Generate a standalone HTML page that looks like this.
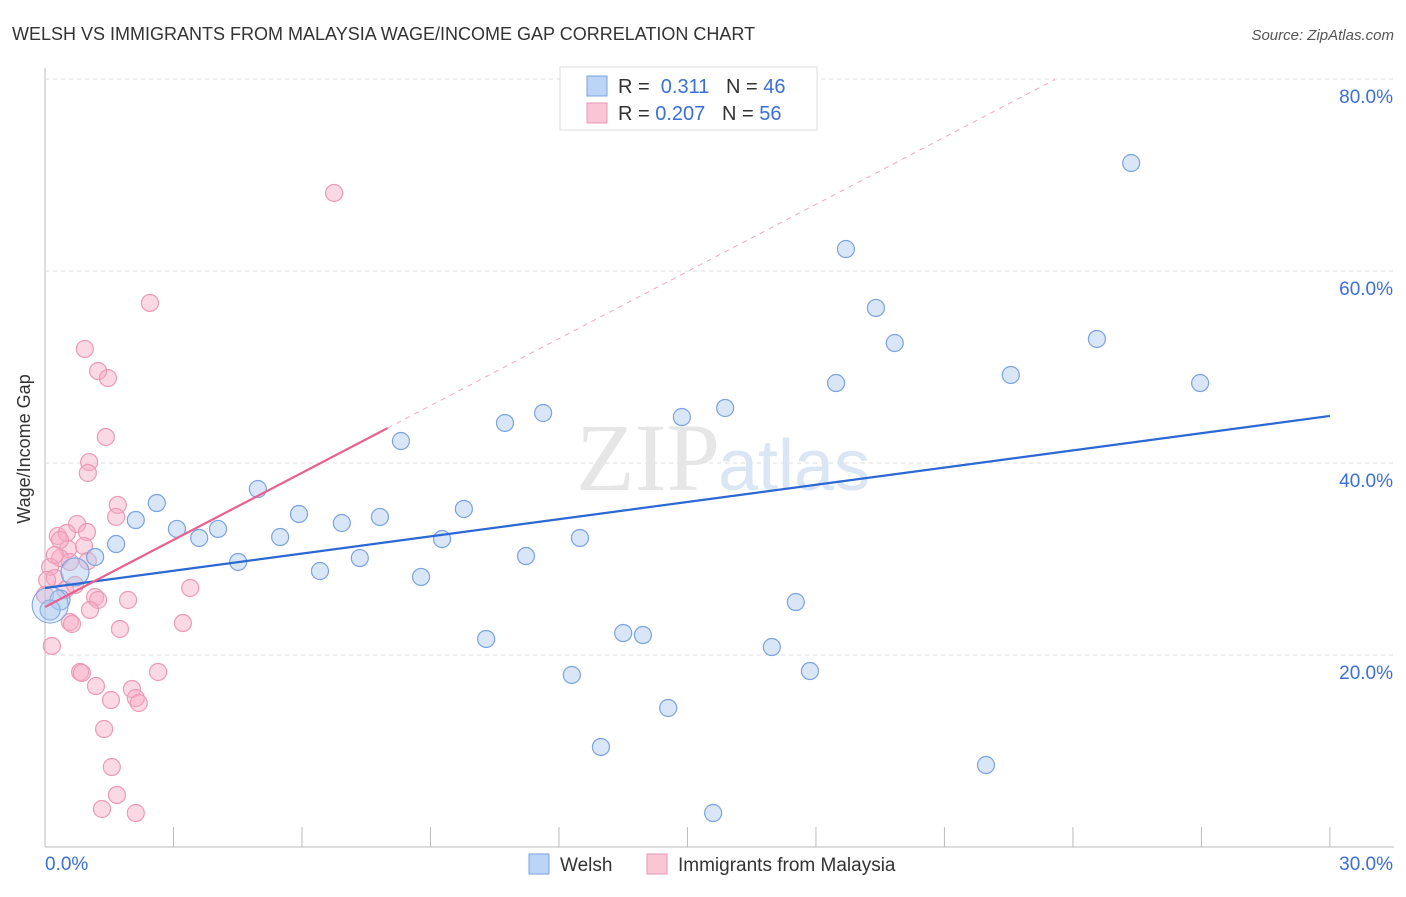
<!DOCTYPE html>
<html><head><meta charset="utf-8"><style>
body{margin:0;background:#fff;font-family:"Liberation Sans",sans-serif}
</style></head><body>
<svg width="1406" height="892" xmlns="http://www.w3.org/2000/svg" font-family="Liberation Sans, sans-serif">
<text x="12" y="40" font-size="18" fill="#333">WELSH VS IMMIGRANTS FROM MALAYSIA WAGE/INCOME GAP CORRELATION CHART</text>
<text x="1394" y="40" font-size="15" fill="#555" font-style="italic" text-anchor="end">Source: ZipAtlas.com</text>
<g id="grid"></g>
<text x="720" y="490" font-size="96" fill="#e6e6e6" font-family="Liberation Serif, serif" text-anchor="end">ZIP</text>
<text x="718" y="490" font-size="72" fill="#dbe6f5">atlas</text>
<text x="36" y="455" font-size="18" fill="#333" transform="rotate(-90 30 455)" text-anchor="middle">Wage/Income Gap</text>
<g id="marks"></g>
<g>
<rect x="560" y="67" width="257" height="63" fill="#fff" stroke="#ddd"/>
<rect x="587" y="76" width="20" height="20" fill="#bcd4f5" stroke="#7aa3e0"/>
<rect x="587" y="103" width="20" height="20" fill="#f9c6d5" stroke="#eb96b2"/>
<text x="618" y="93" font-size="20" fill="#333">R = <tspan fill="#3a6fd8">&#160;0.311</tspan>&#160;&#160;&#160;N = <tspan fill="#3a6fd8">46</tspan></text>
<text x="618" y="120" font-size="20" fill="#333">R = <tspan fill="#3a6fd8">0.207</tspan>&#160;&#160;&#160;N = <tspan fill="#3a6fd8">56</tspan></text>
</g>
<g>
<rect x="529" y="854" width="20" height="20" fill="#bcd4f5" stroke="#7aa3e0"/>
<text x="560" y="871" font-size="19" fill="#333">Welsh</text>
<rect x="647" y="854" width="20" height="20" fill="#f9c6d5" stroke="#eb96b2"/>
<text x="678" y="871" font-size="19" fill="#333">Immigrants from Malaysia</text>
</g>
</svg>
<script>
const xTicks=[0,3,6,9,12,15,18,21,24,27,30];
const yTicks=[20,40,60,80];
const yTickLabels=["20.0%","40.0%","60.0%","80.0%"];
const xEndLabels=["0.0%","30.0%"];
const welshX=[25.36,18.70,19.40,19.84,24.56,22.55,26.97,18.47,15.88,14.87,11.63,10.74,8.31,4.97,2.61,2.12,3.08,4.04,5.93,6.93,7.82,9.78,3.60,5.49,9.27,12.49,11.23,7.35,1.17,1.66,4.51,6.42,8.78,17.53,10.30,13.50,13.96,16.97,17.86,12.30,14.55,12.98,21.97,15.60,0.70,0.35,0.12];
const welshY=[71.25,62.29,56.15,52.5,52.92,49.17,48.33,48.33,45.73,44.79,45.21,44.17,42.29,37.29,35.83,34.06,33.13,33.13,34.69,33.75,34.38,35.21,32.19,32.29,32.08,32.19,30.31,30.10,30.21,31.56,29.69,28.75,28.13,25.52,21.67,22.29,22.08,20.83,18.33,17.92,14.48,10.42,8.54,3.54,28.65,25.73,24.69];
const malX=[6.75,2.45,0.93,1.24,1.47,1.42,1.03,1.00,1.70,1.66,0.75,0.98,0.30,0.51,0.54,0.35,0.91,0.58,0.12,0.23,1.00,0.47,0.70,1.17,1.24,1.94,1.05,3.39,0.58,0.63,1.75,3.22,0.16,0.82,0.86,2.64,1.19,2.03,2.12,2.19,1.54,1.38,1.56,1.68,1.33,2.12,0.0,0.05,0.23,0.35];
const malY=[68.13,56.67,51.88,49.58,48.85,42.71,40.10,38.96,35.63,34.38,33.65,32.81,32.40,32.71,31.04,30.10,31.35,29.69,29.17,28.02,29.79,26.77,27.29,26.04,25.73,25.73,24.69,26.98,23.44,23.23,22.71,23.33,20.94,18.23,18.13,18.23,16.77,16.46,15.52,15.00,15.31,12.29,8.33,5.42,3.96,3.54,26.25,27.81,30.42,31.98];
const welshTrend=[26.98,44.9];
const malTrend=[25.0,2.33];
const X=v=>45+v*42.83, Y=v=>847-v*9.6;
const NS="http://www.w3.org/2000/svg";
function mk(t,a,p){const e=document.createElementNS(NS,t);for(const k in a)e.setAttribute(k,a[k]);p.appendChild(e);return e;}
const g=document.getElementById('grid');
const ax=mk('line',{x1:45,y1:68,x2:45,y2:847,stroke:'#bbb'},g);

const bx=mk('line',{x1:45,y1:847,x2:1394,y2:847,stroke:'#bbb'},g);

mk('line',{x1:45,y1:79,x2:1394,y2:79,stroke:'#ddd','stroke-dasharray':'4,4'},g);
yTicks.forEach((t,i)=>{const l=mk('line',{x1:45,y1:Y(t),x2:1394,y2:Y(t),stroke:'#ddd','stroke-dasharray':'4,4'},g);

const tx=mk('text',{x:1393,y:Y(t)+24,'font-size':19,fill:'#3a6fd8','text-anchor':'end'},g);tx.textContent=yTickLabels[i];
});
xTicks.forEach(t=>{const l=mk('line',{x1:X(t),y1:827,x2:X(t),y2:847,stroke:'#bbb'},g);
});
const x0=mk('text',{x:45,y:870,'font-size':19,fill:'#3a6fd8'},g);x0.textContent=xEndLabels[0];

const x1=mk('text',{x:1393,y:870,'font-size':19,fill:'#3a6fd8','text-anchor':'end'},g);x1.textContent=xEndLabels[1];

const m=document.getElementById('marks');
malX.forEach((v,i)=>{const c=mk('circle',{cx:X(v),cy:Y(malY[i]),r:8.5,fill:'rgba(246,170,195,0.45)',stroke:'#ec9ab5','stroke-width':1.2},m);
});
welshX.forEach((v,i)=>{const c=mk('circle',{cx:X(v),cy:Y(welshY[i]),r:i>=44?(i==44?14:10):8.5,fill:'rgba(170,200,240,0.45)',stroke:'#7aa3e0','stroke-width':1.2},m);
});
const big=mk('circle',{cx:X(0.12),cy:Y(25.2),r:18,fill:'rgba(170,200,240,0.35)',stroke:'#7aa3e0','stroke-width':1},m);

const wl=mk('line',{x1:X(0),y1:Y(welshTrend[0]),x2:X(30),y2:Y(welshTrend[1]),stroke:'#2a68d4','stroke-width':2.2},m);

const pl=mk('line',{x1:X(0),y1:Y(malTrend[0]),x2:X(8),y2:Y(malTrend[0]+malTrend[1]*8),stroke:'#e8608f','stroke-width':2.2},m);

const pd=mk('line',{x1:X(8),y1:Y(malTrend[0]+malTrend[1]*8),x2:X(23.58),y2:Y(malTrend[0]+malTrend[1]*23.58),stroke:'#f0a8c0','stroke-width':1,'stroke-dasharray':'5,5'},m);

</script>
</body></html>
